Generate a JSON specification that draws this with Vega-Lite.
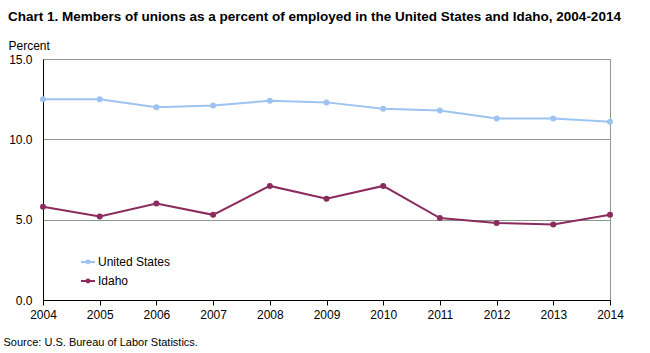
{
  "$schema": "https://vega.github.io/schema/vega-lite/v6.json",
  "width": 567,
  "height": 241,
  "autosize": {"type": "none"},
  "padding": {"left": 43, "top": 59, "right": 40, "bottom": 53},
  "background": "white",
  "config": {
    "font": "Liberation Sans",
    "view": {"stroke": "#8a9a8a", "strokeWidth": 1}
  },
  "title": {
    "text": "Chart 1. Members of unions as a percent of employed in the United States and Idaho, 2004-2014",
    "anchor": "start",
    "frame": "group",
    "dx": -35,
    "offset": 16,
    "fontSize": 13.5,
    "fontWeight": "bold",
    "color": "#000000",
    "font": "Liberation Sans"
  },
  "data": {
    "values": [
      {"year": 2004, "series": "United States", "value": 12.5},
      {"year": 2005, "series": "United States", "value": 12.5},
      {"year": 2006, "series": "United States", "value": 12.0},
      {"year": 2007, "series": "United States", "value": 12.1},
      {"year": 2008, "series": "United States", "value": 12.4},
      {"year": 2009, "series": "United States", "value": 12.3},
      {"year": 2010, "series": "United States", "value": 11.9},
      {"year": 2011, "series": "United States", "value": 11.8},
      {"year": 2012, "series": "United States", "value": 11.3},
      {"year": 2013, "series": "United States", "value": 11.3},
      {"year": 2014, "series": "United States", "value": 11.1},
      {"year": 2004, "series": "Idaho", "value": 5.8},
      {"year": 2005, "series": "Idaho", "value": 5.2},
      {"year": 2006, "series": "Idaho", "value": 6.0},
      {"year": 2007, "series": "Idaho", "value": 5.3},
      {"year": 2008, "series": "Idaho", "value": 7.1},
      {"year": 2009, "series": "Idaho", "value": 6.3},
      {"year": 2010, "series": "Idaho", "value": 7.1},
      {"year": 2011, "series": "Idaho", "value": 5.1},
      {"year": 2012, "series": "Idaho", "value": 4.8},
      {"year": 2013, "series": "Idaho", "value": 4.7},
      {"year": 2014, "series": "Idaho", "value": 5.3}
    ]
  },
  "mark": {"type": "line", "strokeWidth": 2, "point": {"filled": true, "size": 36, "opacity": 1}},
  "encoding": {
    "x": {
      "field": "year",
      "type": "quantitative",
      "scale": {"domain": [2004, 2014], "nice": false, "zero": false},
      "axis": {
        "values": [2004, 2005, 2006, 2007, 2008, 2009, 2010, 2011, 2012, 2013, 2014],
        "format": "d",
        "grid": false,
        "domainColor": "#000000",
        "domainWidth": 1,
        "tickColor": "#000000",
        "tickSize": 5,
        "labelPadding": 4,
        "labelFontSize": 12,
        "labelColor": "#000000",
        "labelFlush": false,
        "title": "Source: U.S. Bureau of Labor Statistics.",
        "titleFontSize": 11,
        "titleFontWeight": "normal",
        "titleColor": "#000000",
        "titleAnchor": "start",
        "titleAlign": "left",
        "titleBaseline": "middle",
        "titleX": -40,
        "titleY": 42
      }
    },
    "y": {
      "field": "value",
      "type": "quantitative",
      "scale": {"domain": [0, 15], "nice": false},
      "axis": {
        "values": [0, 5, 10, 15],
        "format": ".1f",
        "grid": true,
        "gridColor": "#8a9a8a",
        "gridWidth": 1,
        "domainColor": "#000000",
        "tickSize": 0,
        "labelPadding": 11,
        "labelFontSize": 12,
        "labelColor": "#000000",
        "title": "Percent",
        "titleAngle": 0,
        "titleFontSize": 12,
        "titleFontWeight": "normal",
        "titleColor": "#000000",
        "titleAlign": "left",
        "titleBaseline": "middle",
        "titleX": -35,
        "titleY": -14
      }
    },
    "color": {
      "field": "series",
      "type": "nominal",
      "scale": {"domain": ["United States", "Idaho"], "range": ["#9dc3f2", "#8b2b5e"]},
      "legend": {
        "title": null,
        "orient": "none",
        "legendX": 37,
        "legendY": 195,
        "symbolType": "M-1,0H1M-0.2,0A0.2,0.2 0 1,1 0.2,0A0.2,0.2 0 1,1 -0.2,0Z",
        "symbolSize": 196,
        "symbolStrokeWidth": 2,
        "labelFontSize": 12,
        "labelColor": "#000000",
        "labelOffset": 2,
        "rowPadding": 5,
        "encode": {"symbols": {"update": {"fill": {"scale": "color", "field": "value"}, "stroke": {"scale": "color", "field": "value"}}}}
      }
    }
  }
}
